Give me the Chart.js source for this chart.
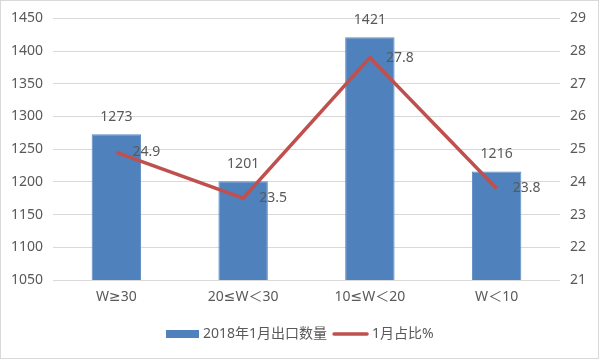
<!DOCTYPE html>
<html>
<head>
<meta charset="utf-8">
<script src="https://cdn.jsdelivr.net/npm/chart.js@4"></script>
<style>
  html, body { margin: 0; padding: 0; background: #fff; }
  #wrap { width: 600px; height: 360px; position: relative; }
</style>
</head>
<body>
<div id="wrap"><canvas id="chart" width="600" height="360"></canvas></div>
<script>
var categories = ['W≥30', '20≤W＜30', '10≤W＜20', 'W＜10'];
var exportQty = [1273, 1201, 1421, 1216];
var sharePct = [24.9, 23.5, 27.8, 23.8];
var qtyLabel = '2018年1月出口数量';
var shareLabel = '1月占比%';

var FONT = '"Noto Sans", "DejaVu Sans", "Noto Sans CJK SC", sans-serif';
var TEXT = '#595959';
var BLUE = '#4F81BD';
var RED = '#C0504D';

Chart.defaults.font.family = FONT;
Chart.defaults.font.size = 14;
Chart.defaults.color = TEXT;

var frameAndLabels = {
    id: 'frameAndLabels',
    beforeDraw: function (chart) {
        var ctx = chart.ctx;
        ctx.save();
        ctx.fillStyle = '#ffffff';
        ctx.fillRect(0, 0, chart.width, chart.height);
        ctx.restore();
    },
    afterDatasetsDraw: function (chart) {
        var ctx = chart.ctx;
        ctx.save();
        ctx.font = '14px ' + FONT;
        ctx.fillStyle = TEXT;
        ctx.textBaseline = 'middle';

        // bar values above bars
        var barMeta = chart.getDatasetMeta(1);
        ctx.textAlign = 'center';
        barMeta.data.forEach(function (el, i) {
            ctx.fillText(String(exportQty[i]), el.x, el.y - 17);
        });

        // line values right of points
        var lineMeta = chart.getDatasetMeta(0);
        ctx.textAlign = 'left';
        lineMeta.data.forEach(function (el, i) {
            ctx.fillText(sharePct[i].toFixed(1), el.x + 16, el.y);
        });
        ctx.restore();
    },
    afterDraw: function (chart) {
        var ctx = chart.ctx;
        ctx.save();
        ctx.font = '14px ' + FONT;
        var w1 = ctx.measureText(qtyLabel).width;
        var w2 = ctx.measureText(shareLabel).width;
        var total = 33 + 4 + w1 + 6 + 35 + 4 + w2;
        var x = Math.round(chart.width / 2 - total / 2);
        var y = 334;

        ctx.fillStyle = BLUE;
        ctx.fillRect(x, y - 4, 33, 8);
        x += 33 + 4;
        ctx.fillStyle = TEXT;
        ctx.textBaseline = 'middle';
        ctx.textAlign = 'left';
        ctx.fillText(qtyLabel, x, y);
        x += w1 + 6;

        ctx.strokeStyle = RED;
        ctx.lineWidth = 3.5;
        ctx.lineCap = 'round';
        ctx.beginPath();
        ctx.moveTo(x + 1, y);
        ctx.lineTo(x + 34, y);
        ctx.stroke();
        x += 35 + 4;
        ctx.fillText(shareLabel, x, y);

        // outer frame
        ctx.strokeStyle = '#D9D9D9';
        ctx.lineWidth = 1;
        ctx.strokeRect(0.5, 0.5, chart.width - 2, chart.height - 2);
        ctx.restore();
    }
};

new Chart(document.getElementById('chart'), {
    type: 'bar',
    data: {
        labels: categories,
        datasets: [{
            type: 'line',
            label: shareLabel,
            data: sharePct,
            yAxisID: 'y1',
            borderColor: RED,
            backgroundColor: RED,
            borderWidth: 3.5,
            pointRadius: 0,
            borderJoinStyle: 'miter',
            tension: 0,
            order: 0,
        }, {
            type: 'bar',
            label: qtyLabel,
            data: exportQty,
            yAxisID: 'y',
            backgroundColor: BLUE,
            borderColor: '#5B8AC4',
            borderWidth: 1,
            barPercentage: 0.39,
            categoryPercentage: 1,
            order: 1,
        }],
    },
    options: {
        responsive: false,
        animation: false,
        layout: { padding: { top: 18, bottom: 50, left: 0, right: 0 } },
        plugins: {
            legend: { display: false },
            tooltip: { enabled: false },
        },
        scales: {
            x: {
                grid: { display: false, drawTicks: false },
                border: { display: false },
                ticks: { padding: 9, font: { size: 14 }, color: TEXT },
                afterFit: function (scale) { scale.height = 30; },
            },
            y: {
                position: 'left',
                min: 1050,
                max: 1450,
                ticks: {
                    stepSize: 50, padding: 10, color: TEXT,
                    callback: function (v) { return String(v); },
                },
                grid: { color: '#D9D9D9', lineWidth: 1, drawTicks: false },
                border: { display: false },
                afterFit: function (scale) { scale.width = 53; },
            },
            y1: {
                position: 'right',
                min: 21,
                max: 29,
                ticks: {
                    stepSize: 1, padding: 10, color: TEXT,
                    callback: function (v) { return String(v); },
                },
                grid: { drawOnChartArea: false, drawTicks: false },
                border: { display: false },
                afterFit: function (scale) { scale.width = 40; },
            },
        },
    },
    plugins: [frameAndLabels],
});
</script>
</body>
</html>
